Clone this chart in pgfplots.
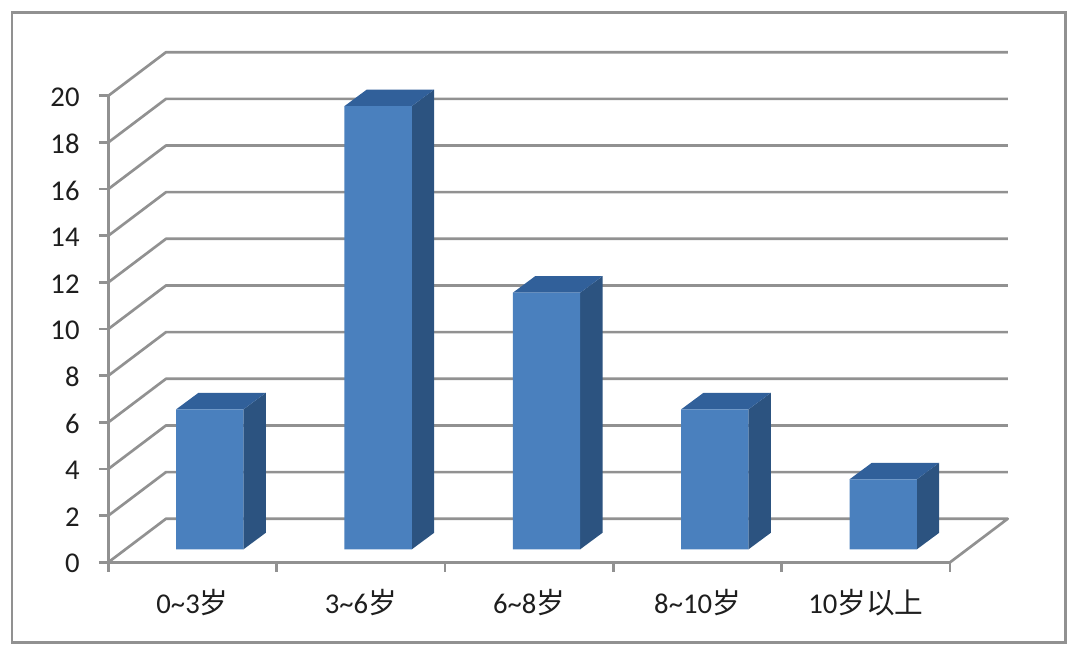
\documentclass[border=0pt]{standalone}
\usepackage{fontspec}
\usepackage{pgfplots}
\pgfplotsset{compat=1.18}
\setmainfont{Carlito}
\newfontfamily\cjk{Noto Sans CJK SC}
\definecolor{gridc}{HTML}{919191}
\definecolor{front}{HTML}{4A80BE}
\definecolor{side}{HTML}{2C5380}
\definecolor{topc}{HTML}{31609A}
\definecolor{txt}{HTML}{1E1E1E}
\begin{document}
\begin{tikzpicture}
\path[fill=white] (0,0) rectangle (810pt,488.25pt);
\draw[gridc,line width=1.8pt] (9pt,6.5pt) rectangle (799pt,479pt);
\begin{axis}[
  at={(81.2pt,66.5pt)}, anchor=south west,
  scale only axis, width=631.3pt, height=349.9pt,
  xmin=0, xmax=5, ymin=0, ymax=20,
  clip=false, no marks,
  axis lines=left,
  axis line style={-, draw=gridc, line width=2pt},
  ytick={0,2,...,20},
  xtick={0.5,1.5,2.5,3.5,4.5},
  xticklabels={{0\textasciitilde3{\cjk 岁}},{3\textasciitilde6{\cjk 岁}},{6\textasciitilde8{\cjk 岁}},{8\textasciitilde10{\cjk 岁}},{10{\cjk 岁以上}}},
  minor xtick={0,1,2,3,4,5},
  major tick length=7pt, minor tick length=7pt,
  tick align=outside,
  x tick style={draw=none},
  minor x tick style={draw=gridc, line width=2pt},
  y tick style={draw=gridc, line width=2pt},
  tick label style={font=\fontsize{21.5}{25}\selectfont, text=txt},
  /pgf/number format/assume math mode=true,
  xticklabel style={yshift=-10pt},
  yticklabel style={xshift=-11pt, yshift=-1pt},
  unbounded coords=jump,
]
% walls and floor grid
\addplot[gridc, line width=2pt, line join=round] coordinates {
 (0,0)(0.343,1.869)(5.343,1.869)(5,0) (0,nan)
 (0,2)(0.343,3.869)(5.343,3.869) (0,nan)
 (0,4)(0.343,5.869)(5.343,5.869) (0,nan)
 (0,6)(0.343,7.869)(5.343,7.869) (0,nan)
 (0,8)(0.343,9.869)(5.343,9.869) (0,nan)
 (0,10)(0.343,11.869)(5.343,11.869) (0,nan)
 (0,12)(0.343,13.869)(5.343,13.869) (0,nan)
 (0,14)(0.343,15.869)(5.343,15.869) (0,nan)
 (0,16)(0.343,17.869)(5.343,17.869) (0,nan)
 (0,18)(0.343,19.869)(5.343,19.869) (0,nan)
 (0,20)(0.343,21.869)(5.343,21.869)
};
\begin{scope}[xshift=6.5pt,yshift=4.875pt]
% side faces
\addplot[fill=side,draw=none] coordinates {(0.7,0)(0.833,0.711)(0.833,6.711)(0.7,6)} --cycle;
\addplot[fill=side,draw=none] coordinates {(1.7,0)(1.833,0.711)(1.833,19.711)(1.7,19)} --cycle;
\addplot[fill=side,draw=none] coordinates {(2.7,0)(2.833,0.711)(2.833,11.711)(2.7,11)} --cycle;
\addplot[fill=side,draw=none] coordinates {(3.7,0)(3.833,0.711)(3.833,6.711)(3.7,6)} --cycle;
\addplot[fill=side,draw=none] coordinates {(4.7,0)(4.833,0.711)(4.833,3.711)(4.7,3)} --cycle;
% top faces
\addplot[fill=topc,draw=none] coordinates {(0.3,6)(0.433,6.711)(0.833,6.711)(0.7,6)} --cycle;
\addplot[fill=topc,draw=none] coordinates {(1.3,19)(1.433,19.711)(1.833,19.711)(1.7,19)} --cycle;
\addplot[fill=topc,draw=none] coordinates {(2.3,11)(2.433,11.711)(2.833,11.711)(2.7,11)} --cycle;
\addplot[fill=topc,draw=none] coordinates {(3.3,6)(3.433,6.711)(3.833,6.711)(3.7,6)} --cycle;
\addplot[fill=topc,draw=none] coordinates {(4.3,3)(4.433,3.711)(4.833,3.711)(4.7,3)} --cycle;
% front faces: the values
\addplot[ybar, bar width=50.5pt, fill=front, draw=none] coordinates {(0.5,6)(1.5,19)(2.5,11)(3.5,6)(4.5,3)};
\end{scope}
\end{axis}
\end{tikzpicture}
\end{document}
